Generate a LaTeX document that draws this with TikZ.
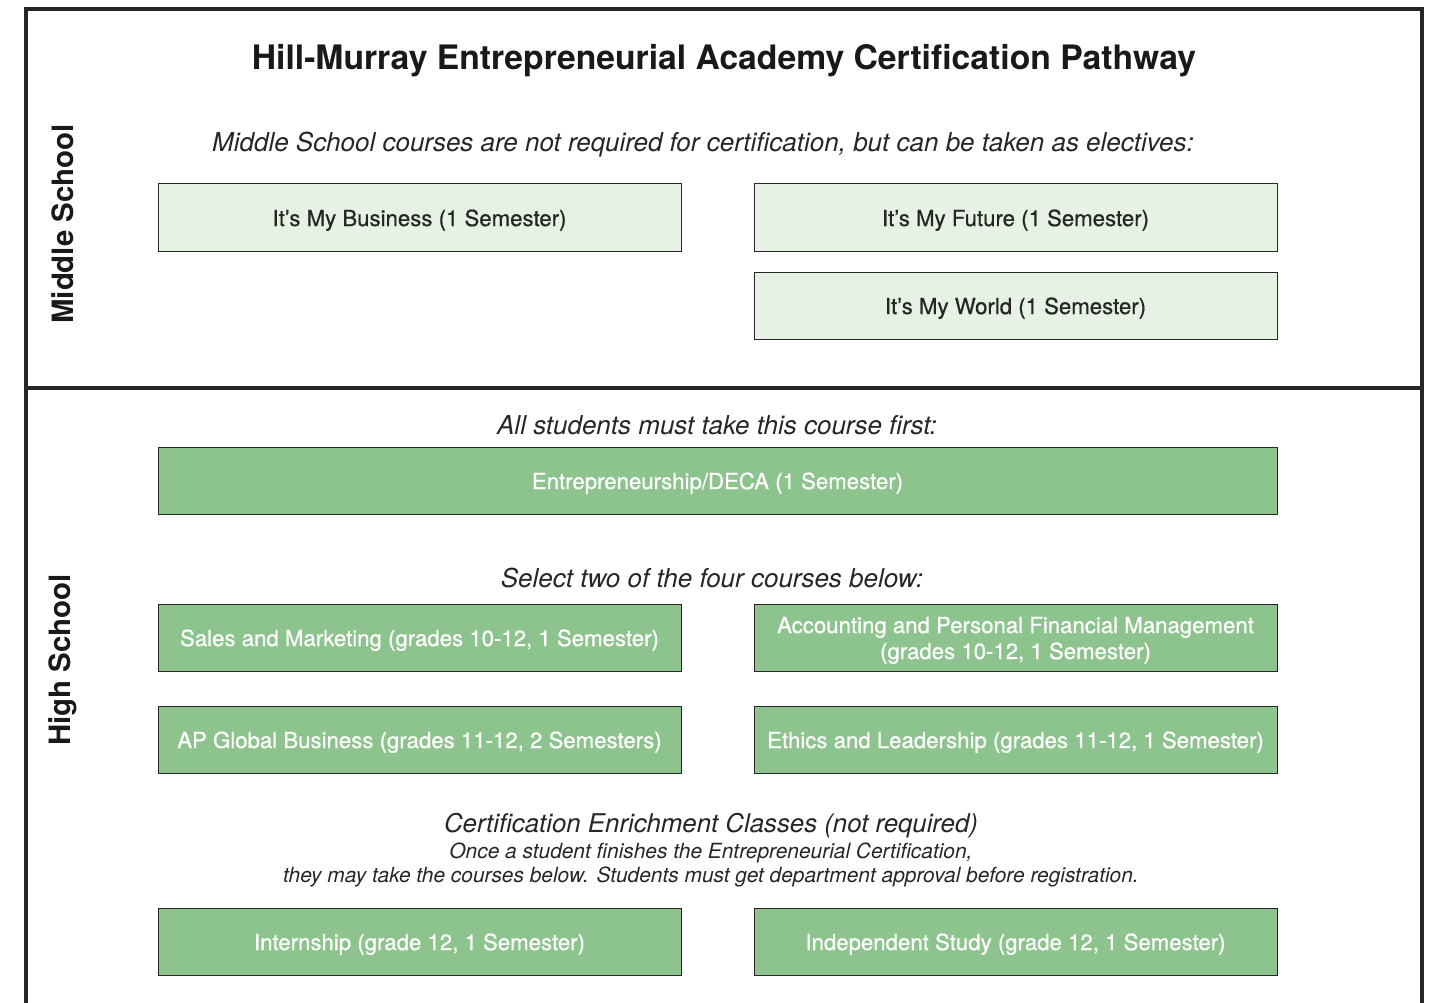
\documentclass[tikz,border=0pt]{standalone}
\usepackage{fontspec}
\setmainfont{TeX Gyre Heros}
\newfontfamily\mediumfont[FakeBold=0.7]{TeX Gyre Heros}
\usetikzlibrary{positioning}
\colorlet{penColor}{black!85}
\definecolor{fill1}{HTML}{E6F2E4}
\definecolor{fill2}{HTML}{8DC38D}
\tikzset{
  course/.style={draw=penColor,line width=1pt,minimum width=523pt,minimum height=67pt,
    inner sep=0pt,text height=22pt,align=center,font=\mediumfont\fontsize{22.2}{26}\selectfont},
  elective/.style={course,fill=fill1,text=black!85},
  required/.style={course,fill=fill2,text=white},
  note/.style={font=\fontsize{26}{30}\selectfont\itshape,text=black!85},
  smallnote/.style={font=\fontsize{20.9}{24.5}\selectfont\itshape,text=black!85,align=center},
  level/.style={rotate=90,font=\fontsize{29.4}{34}\selectfont\bfseries,text=black!90}
}

\begin{document}
\begin{tikzpicture}[x=1pt,y=-1pt]
    \useasboundingbox (0,0) rectangle (1437,1003);
    % frame
    \draw[penColor,line width=3.5pt] (26,1003) -- (26,9) -- (1422,9) -- (1422,1003);
    \draw[penColor,line width=3.5pt] (26,388) -- (1422,388);

    \node[font=\fontsize{33.7}{40}\selectfont\bfseries,text=black!90] (title) at (724,61)
      {Hill-Murray Entrepreneurial Academy Certification Pathway};
    \node[level] (middle) at (63,224) {Middle School};
    \node[level] (high) at (63,660) {High School};

    % middle school
    \node[note] (msnote) at (703,145)
      {Middle School courses are not required for certification, but can be taken as electives:};
    \node[elective] (business) at (419.5,217.5) {It’s My Business (1 Semester)};
    \node[elective] (future) at (1015.5,217.5) {It’s My Future (1 Semester)};
    \node[elective,below=20pt of future] (world) {It’s My World (1 Semester)};

    % high school
    \node[note] (firstnote) at (717,425) {All students must take this course first:};
    \node[required,minimum width=1119pt] (deca) at (717.5,480.5)
      {Entrepreneurship/DECA (1 Semester)};

    \node[note] (selectnote) at (712,578) {Select two of the four courses below:};
    \node[required] (sales) at (419.5,637.5) {Sales and Marketing (grades 10-12, 1 Semester)};
    \node[required,text height=48pt] (accounting) at (1015.5,637.5)
      {Accounting and Personal Financial Management\\(grades 10-12, 1 Semester)};
    \node[required] (global) at (419.5,739.5) {AP Global Business (grades 11-12, 2 Semesters)};
    \node[required] (ethics) at (1015.5,739.5) {Ethics and Leadership (grades 11-12, 1 Semester)};

    \node[note,font=\fontsize{25.8}{30}\selectfont\itshape] (enrich) at (711,826)
      {Certification Enrichment Classes (not required)};
    \node[smallnote,below=-3pt of enrich] (enrichnote)
      {Once a student finishes the Entrepreneurial Certification,\\
       they may take the courses below. Students must get department approval before registration.};
    \node[required] (internship) at (419.5,941.5) {Internship (grade 12, 1 Semester)};
    \node[required] (study) at (1015.5,941.5) {Independent Study (grade 12, 1 Semester)};
\end{tikzpicture}
\end{document}
